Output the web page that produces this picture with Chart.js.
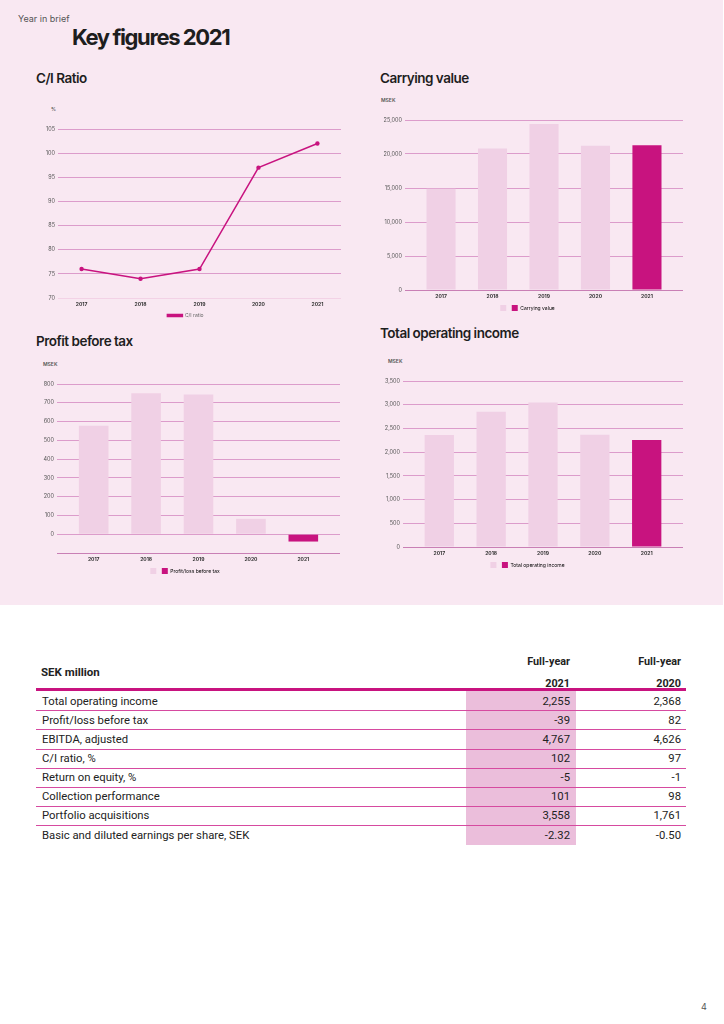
<!DOCTYPE html>
<html><head><meta charset="utf-8">
<script src="https://cdn.jsdelivr.net/npm/chart.js@4.4.1/dist/chart.umd.min.js"></script>
<style>
html,body{margin:0;padding:0;background:#fff;}
body{width:724px;height:1024px;position:relative;overflow:hidden;font-family:Inter,sans-serif;color:#222;}
#bg{position:absolute;left:0;top:0;width:723px;height:605px;background:#f9e8f2;}
.a{position:absolute;white-space:nowrap;line-height:1;}
.h2{font-weight:600;font-size:13.5px;letter-spacing:-0.5px;color:#1e1e1e;}
.unit{font-size:5px;color:#555;font-weight:600;}
.box{position:absolute;}
.tl{position:absolute;font-family:Roboto,sans-serif;font-size:11.3px;line-height:19px;height:19px;color:#222;}
</style></head>
<body>
<div id="bg"></div>
<div class="a" style="left:18px;top:14px;font-size:9px;color:#555;">Year in brief</div>
<div class="a" style="left:72px;top:26px;font-size:22px;font-weight:700;letter-spacing:-1.4px;color:#1e1e1e;">Key figures 2021</div>
<div class="a h2" style="left:36px;top:72px;">C/I Ratio</div>
<div class="a h2" style="left:380px;top:72px;">Carrying value</div>
<div class="a h2" style="left:36px;top:335px;">Profit before tax</div>
<div class="a h2" style="left:380px;top:327px;">Total operating income</div>
<div class="a unit" style="left:51px;top:107px;">%</div>
<div class="a unit" style="left:381px;top:98px;">MSEK</div>
<div class="a unit" style="left:43px;top:362px;">MSEK</div>
<div class="a unit" style="left:388px;top:359px;">MSEK</div>

<div class="box" style="left:30px;top:120px;width:311px;height:208px;"><canvas id="c1"></canvas></div>
<div class="box" style="left:372px;top:111px;width:311px;height:210px;"><canvas id="c2"></canvas></div>
<div class="box" style="left:30px;top:375px;width:310px;height:209px;"><canvas id="c3"></canvas></div>
<div class="box" style="left:372px;top:372px;width:311px;height:206px;"><canvas id="c4"></canvas></div>

<div id="table"></div>
<div class="a" style="left:701px;top:1002px;font-size:9px;color:#555;">4</div>

<script>
// ---- data ----
const years = [2017, 2018, 2019, 2020, 2021];
const ciRatio = [76, 74, 76, 97, 102];
const carryingValue = [14900, 20800, 24400, 21200, 21300];
const profitBeforeTax = [577, 751, 744, 82, -39];
const totalOperatingIncome = [2360, 2850, 3045, 2368, 2255];

const tableHeader = 'SEK million';
const tableColHeads = [['Full-year', '2021'], ['Full-year', '2020']];
const tableRows = ['Total operating income', 'Profit/loss before tax', 'EBITDA, adjusted', 'C/I ratio, %',
  'Return on equity, %', 'Collection performance', 'Portfolio acquisitions', 'Basic and diluted earnings per share, SEK'];
const fy2021 = ['2,255', '-39', '4,767', '102', '-5', '101', '3,558', '-2.32'];
const fy2020 = ['2,368', '82', '4,626', '97', '-1', '98', '1,761', '-0.50'];

// ---- styles ----
const MAG = '#c8137f';
const LIGHT = '#f0d0e5';
const GRID = '#dc9ccb';
const AXIS = '#c97fb5';

function barColors(n) { return years.map((y, i) => i === n - 1 ? MAG : LIGHT); }

function xScale(min, max) {
  return {
    type: 'linear', min: min, max: max, offset: false,
    afterBuildTicks: s => { s.ticks = years.map(v => ({ value: v })); },
    grid: { display: false, drawTicks: false, offset: false },
    border: { display: false },
    ticks: { padding: 3, maxRotation: 0, autoSkip: false, color: '#333',
      font: { family: 'Inter', size: 5, weight: 'bold' }, callback: v => String(v) }
  };
}
function yScale(min, max, step, w, bottomColor, labelFn) {
  return {
    min: min, max: max,
    afterFit: s => { s.width = w; },
    grid: { drawTicks: false, lineWidth: 1,
      color: c => c.tick && c.tick.value === min ? bottomColor : GRID },
    border: { display: false },
    ticks: { stepSize: step, padding: 3, color: '#555',
      font: { family: 'Inter', size: 5.5 },
      callback: labelFn || (v => v.toLocaleString('en-US')) }
  };
}
function barLegend(text) {
  return {
    position: 'bottom',
    labels: {
      boxWidth: 6, boxHeight: 6, padding: 3, color: '#666',
      font: { family: 'Inter', size: 5 },
      generateLabels: () => [
        { text: '', fillStyle: LIGHT, strokeStyle: LIGHT, lineWidth: 0, hidden: false, datasetIndex: 0 },
        { text: text, fillStyle: MAG, strokeStyle: MAG, lineWidth: 0, hidden: false, datasetIndex: 0 }
      ]
    }
  };
}
const common = { responsive: true, maintainAspectRatio: false, animation: false, events: [] };

// C/I ratio line
new Chart(document.getElementById('c1'), {
  type: 'line',
  data: { datasets: [{ label: 'C/I ratio', data: years.map((y, i) => ({ x: y, y: ciRatio[i] })),
    borderColor: MAG, backgroundColor: MAG, borderWidth: 1.5, pointRadius: 2.2,
    pointBackgroundColor: MAG, pointBorderWidth: 0, tension: 0 }] },
  options: Object.assign({}, common, {
    layout: { autoPadding: false, padding: { top: 9, right: 0, left: 0, bottom: 0 } },
    scales: {
      x: xScale(2016.6, 2021.4),
      y: yScale(70, 105, 5, 28, '#f3d2e6')
    },
    plugins: { legend: { position: 'bottom', labels: { boxWidth: 15, boxHeight: 2, padding: 3, color: '#666',
      font: { family: 'Inter', size: 5 } } }, tooltip: { enabled: false } }
  })
});

function barChart(id, values, min, max, step, w, legendText, labelFn) {
  new Chart(document.getElementById(id), {
    type: 'bar',
    data: { datasets: [{ label: legendText, data: years.map((y, i) => ({ x: y, y: values[i] })),
      backgroundColor: barColors(values.length), borderWidth: 0,
      categoryPercentage: 1, barPercentage: 0.565 }] },
    options: Object.assign({}, common, {
      layout: { padding: { top: 9, right: 0, left: 0, bottom: 0 } },
      scales: { x: xScale(2016.3, 2021.7), y: yScale(min, max, step, w, AXIS, labelFn) },
      plugins: { legend: barLegend(legendText), tooltip: { enabled: false } }
    })
  });
}
barChart('c2', carryingValue, 0, 25000, 5000, 33, 'Carrying value');
barChart('c3', profitBeforeTax, -100, 800, 100, 27, 'Profit/loss before tax', v => v < 0 ? '' : v.toLocaleString('en-US'));
barChart('c4', totalOperatingIncome, 0, 3500, 500, 31, 'Total operating income');

// ---- table ----
(function(){
  const t = document.getElementById('table');
  let h = '';
  const rowH = 19.15, firstC = 701;
  h += '<div style="position:absolute;left:466px;top:691px;width:110px;height:154px;background:#ebbedb;"></div>';
  h += '<div style="position:absolute;left:36px;top:688px;width:650px;height:2.5px;background:' + MAG + ';"></div>';
  h += '<div class="tl" style="left:41px;top:' + (672 - 9.5) + 'px;font-weight:700;font-size:11.5px;">' + tableHeader + '</div>';
  const rights = [570, 681];
  tableColHeads.forEach((c, k) => {
    h += '<div class="tl" style="right:' + (724 - rights[k]) + 'px;top:' + (661 - 9.5) + 'px;font-weight:700;font-size:10.8px;text-align:right;">' + c[0] + '</div>';
    h += '<div class="tl" style="right:' + (724 - rights[k]) + 'px;top:' + (683 - 9.5) + 'px;font-weight:700;font-size:10.8px;text-align:right;">' + c[1] + '</div>';
  });
  tableRows.forEach((r, i) => {
    const cy = firstC + i * rowH;
    h += '<div class="tl" style="left:42px;top:' + (cy - 9.5) + 'px;">' + r + '</div>';
    h += '<div class="tl" style="right:' + (724 - rights[0]) + 'px;top:' + (cy - 9.5) + 'px;text-align:right;">' + fy2021[i] + '</div>';
    h += '<div class="tl" style="right:' + (724 - rights[1]) + 'px;top:' + (cy - 9.5) + 'px;text-align:right;">' + fy2020[i] + '</div>';
    if (i < tableRows.length - 1) {
      h += '<div style="position:absolute;left:36px;top:' + (cy + 9.2) + 'px;width:650px;height:1px;background:#d64aa0;"></div>';
    }
  });
  t.innerHTML = h;
})();
</script>
</body></html>
